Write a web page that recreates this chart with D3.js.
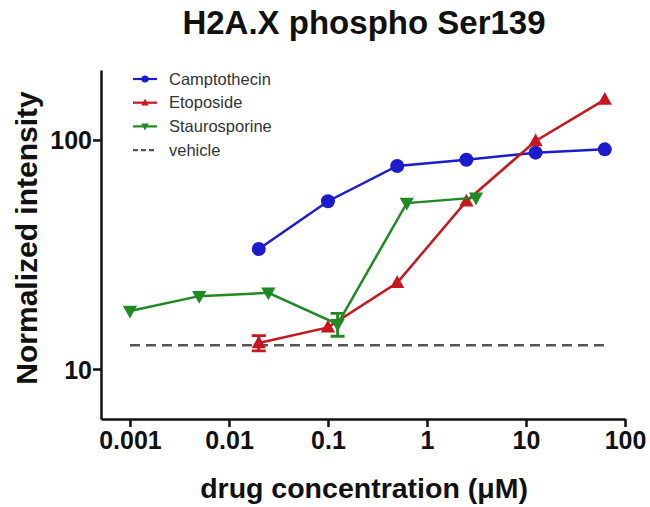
<!DOCTYPE html>
<html>
<head>
<meta charset="utf-8">
<script src="https://cdn.jsdelivr.net/npm/d3@7"></script>
<style>
  body { margin: 0; background: #fff; }
  text { font-family: "Liberation Sans", Arial, sans-serif; }
</style>
</head>
<body>
<svg id="chart" width="650" height="507"></svg>
<script>
// values (concentrations in uM)
let camptoX = [0.02, 0.1, 0.5, 2.5, 12.5, 62.5];
let camptoY = [33.4, 54, 77, 82, 88, 91];
let etopoX = [0.02, 0.1, 0.5, 2.5, 12.5, 62.5];
let etopoY = [13.0, 15.2, 23.8, 54, 99, 150];
let etopoErr = [1.0, 0, 0, 0, 0, 0];
let stauroX = [0.001, 0.005, 0.025, 0.125, 0.625, 3.125];
let stauroY = [17.9, 20.8, 21.5, 15.7, 53, 56];
let stauroErr = [0, 0, 0, 1.8, 0, 0];
let vehicleX = [0.001, 62.5];
let vehicleY = [12.7, 12.7];
let xTicks = [0.001, 0.01, 0.1, 1, 10, 100];
let xTickLabels = ["0.001", "0.01", "0.1", "1", "10", "100"];
let yTicks = [10, 100];
let yTickLabels = ["10", "100"];

let svg = d3.select("#chart");
let x = d3.scaleLog().domain([0.00051, 100]).range([101, 625]);
let y = d3.scaleLog().domain([6.05, 202]).range([419, 70]);

let series = [
    {name: "Camptothecin", xs: camptoX, ys: camptoY, err: null, color: "#1c1ccc", shape: "circle"},
    {name: "Etoposide", xs: etopoX, ys: etopoY, err: etopoErr, color: "#c8161e", shape: "up"},
    {name: "Staurosporine", xs: stauroX, ys: stauroY, err: stauroErr, color: "#1f8a23", shape: "down"}
];

function markerPath(shape, s) {
    if (shape === "up") return "M0," + (-s) + "L" + (s * 0.95) + "," + (s * 0.7) + "L" + (-s * 0.95) + "," + (s * 0.7) + "Z";
    if (shape === "down") return "M0," + s + "L" + (s * 0.95) + "," + (-s * 0.7) + "L" + (-s * 0.95) + "," + (-s * 0.7) + "Z";
    return null;
}

// axes
let xAxis = svg.append("g")
    .attr("transform", "translate(0,419)")
    .call(d3.axisBottom(x).tickValues(xTicks).tickFormat((d, i) => xTickLabels[i])
        .tickSize(8).tickSizeOuter(0).tickPadding(4));
let yAxis = svg.append("g")
    .attr("transform", "translate(101,0)")
    .call(d3.axisLeft(y).tickValues(yTicks).tickFormat((d, i) => yTickLabels[i])
        .tickSize(8).tickSizeOuter(0).tickPadding(1));
[xAxis, yAxis].forEach(function (g) {
    g.selectAll("path, line").attr("stroke", "#111").attr("stroke-width", 2.5);
    g.selectAll("text").attr("fill", "#111").style("font-size", "25px").style("font-weight", "bold");
});
yAxis.selectAll("text").attr("dy", "0.36em");

// vehicle dashed line
svg.append("path")
    .attr("d", d3.line().x(d => x(d[0])).y(d => y(d[1]))(d3.zip(vehicleX, vehicleY)))
    .attr("fill", "none")
    .attr("stroke", "#555")
    .attr("stroke-width", 2.5)
    .attr("stroke-dasharray", "10,6");

// series
series.forEach(function (s) {
    let pts = d3.zip(s.xs, s.ys, s.err || s.xs.map(() => 0));
    let g = svg.append("g");
    g.append("path")
        .attr("d", d3.line().x(d => x(d[0])).y(d => y(d[1]))(pts))
        .attr("fill", "none")
        .attr("stroke", s.color)
        .attr("stroke-width", 2.5);
    // error bars
    pts.filter(d => d[2] > 0).forEach(function (d) {
        let cx = x(d[0]), y0 = y(d[1] - d[2]), y1 = y(d[1] + d[2]);
        g.append("path")
            .attr("d", "M" + cx + "," + y0 + "V" + y1 + "M" + (cx - 7) + "," + y0 + "H" + (cx + 7) + "M" + (cx - 7) + "," + y1 + "H" + (cx + 7))
            .attr("stroke", s.color)
            .attr("stroke-width", 2.8)
            .attr("fill", "none");
    });
    if (s.shape === "circle") {
        g.selectAll("circle").data(pts).enter().append("circle")
            .attr("cx", d => x(d[0])).attr("cy", d => y(d[1])).attr("r", 7)
            .attr("fill", s.color);
    } else {
        g.selectAll(".mk").data(pts).enter().append("path")
            .attr("class", "mk")
            .attr("transform", d => "translate(" + x(d[0]) + "," + y(d[1]) + ")")
            .attr("d", markerPath(s.shape, 7.5))
            .attr("fill", s.color);
    }
});

// legend
let legend = svg.append("g");
series.concat([{name: "vehicle", color: "#555", shape: "dash"}]).forEach(function (s, i) {
    let ly = 79 + i * 23.7;
    let row = legend.append("g").attr("transform", "translate(133," + ly + ")");
    row.append("line")
        .attr("x1", 0).attr("x2", 24).attr("y1", 0).attr("y2", 0)
        .attr("stroke", s.color).attr("stroke-width", 2.2)
        .attr("stroke-dasharray", s.shape === "dash" ? "5,3" : null);
    if (s.shape === "circle") {
        row.append("circle").attr("cx", 12).attr("r", 3.6).attr("fill", s.color);
    } else if (s.shape !== "dash") {
        row.append("path").attr("transform", "translate(12,0)").attr("d", markerPath(s.shape, 4)).attr("fill", s.color);
    }
    row.append("text")
        .attr("x", 36).attr("y", 0).attr("dy", "0.35em")
        .attr("fill", "#333")
        .style("font-size", "16.5px")
        .text(s.name);
});

// titles
svg.append("text")
    .attr("x", 364).attr("y", 34)
    .attr("text-anchor", "middle")
    .style("font-size", "33px").style("font-weight", "bold")
    .attr("fill", "#111")
    .text("H2A.X phospho Ser139");
svg.append("text")
    .attr("transform", "translate(37,238) rotate(-90)")
    .attr("text-anchor", "middle")
    .style("font-size", "30px").style("font-weight", "bold")
    .attr("fill", "#111")
    .text("Normalized intensity");
svg.append("text")
    .attr("x", 364).attr("y", 498)
    .attr("text-anchor", "middle")
    .style("font-size", "28.5px").style("font-weight", "bold")
    .attr("fill", "#111")
    .text("drug concentration (μM)");
</script>
</body>
</html>
